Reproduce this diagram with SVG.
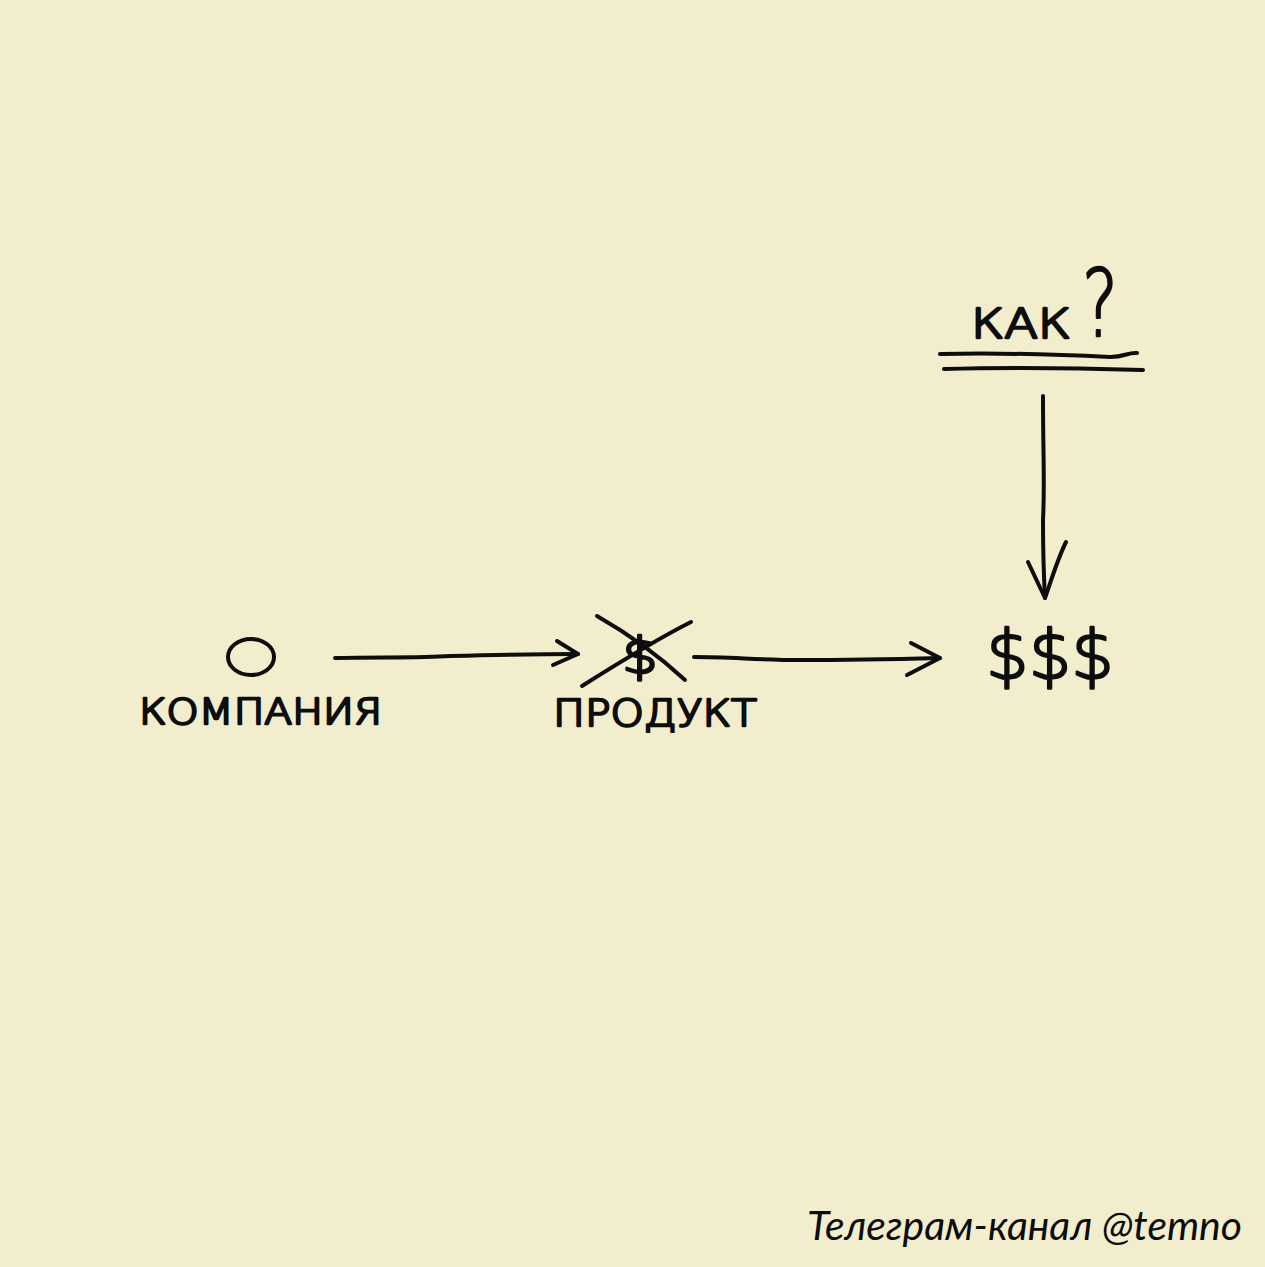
<svg xmlns="http://www.w3.org/2000/svg" width="1265" height="1267" viewBox="0 0 1265 1267">
<style>
.ink{fill:none;stroke:#0d0d0d;stroke-width:4;stroke-linecap:round;stroke-linejoin:round}
.hand{font-family:"DejaVu Sans","Liberation Sans",sans-serif;font-weight:200;fill:#0d0d0d;stroke:#0d0d0d;stroke-width:2.4;stroke-linejoin:round}
.foot{font-family:Lato,"Open Sans",sans-serif;font-style:italic;fill:#0d0d0d}
</style>
<rect x="0" y="0" width="1265" height="1267" fill="#f2edcd"/>
<g id="company">
<ellipse class="ink" cx="251" cy="657" rx="23" ry="18"/>
<text class="hand" x="139" y="724" font-size="36" textLength="243" lengthAdjust="spacingAndGlyphs">КОМПАНИЯ</text>
</g>
<g id="product">
<text class="hand" x="622" y="673" font-size="50" textLength="36" lengthAdjust="spacingAndGlyphs">$</text>
<path class="ink" d="M597,616 C625,632 655,652 685,680"/>
<path class="ink" d="M691,622 C655,640 620,662 582,686"/>
<text class="hand" x="553" y="726" font-size="38" textLength="204" lengthAdjust="spacingAndGlyphs">ПРОДУКТ</text>
</g>
<g id="money">
<text class="hand" x="986" y="679" font-size="68" textLength="128" lengthAdjust="spacingAndGlyphs">$$$</text>
</g>
<g id="how">
<text class="hand" x="971" y="338" font-size="40" textLength="100" lengthAdjust="spacingAndGlyphs">КАК</text>
<text class="hand" x="1082" y="336" font-size="92" textLength="36" lengthAdjust="spacingAndGlyphs">?</text>
<path class="ink" d="M940,354 C990,353 1050,354 1110,357 C1125,357 1128,352 1137,353"/>
<path class="ink" d="M944,369 C1010,367 1080,368 1143,370"/>
</g>
<g id="connectors">
<path class="ink" d="M335,658 C380,657 420,658 450,656 C490,655 530,654 578,654"/>
<path class="ink" d="M557,641 L578,654 L553,665"/>
<path class="ink" d="M694,657 C730,657 760,660 800,660 C850,660 900,659 940,658"/>
<path class="ink" d="M911,643 L940,658 L907,675"/>
<path class="ink" d="M1043,396 C1043,460 1045,480 1043,520 C1043,560 1044,580 1045,598"/>
<path class="ink" d="M1028,562 L1045,598 C1052,578 1058,558 1066,542"/>
</g>
<text class="foot" x="807" y="1240" font-size="41" textLength="435" lengthAdjust="spacingAndGlyphs">Телеграм-канал @temno</text>
</svg>
